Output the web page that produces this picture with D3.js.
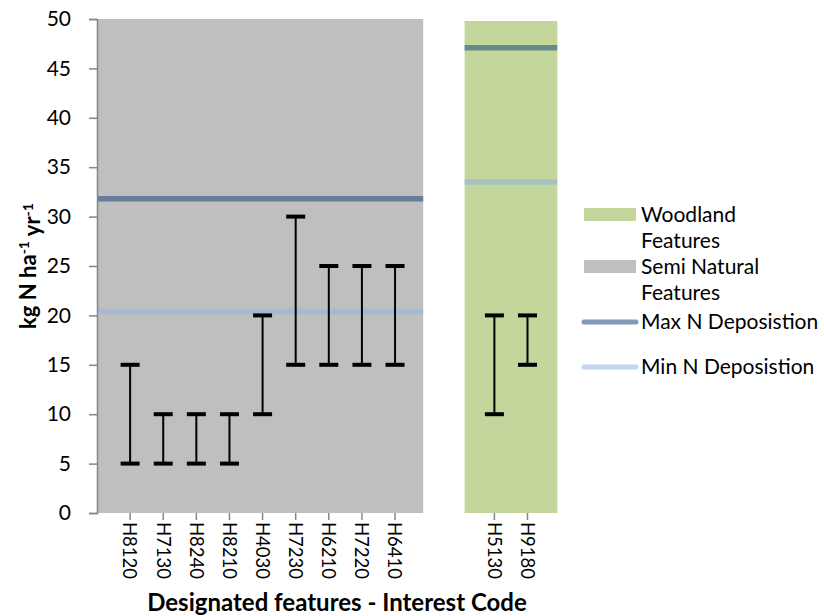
<!DOCTYPE html>
<html><head><meta charset="utf-8">
<script src="https://cdn.jsdelivr.net/npm/d3@7"></script>
<style>
body{margin:0;background:#fff}
text{font-family:Lato,"Open Sans",sans-serif;fill:#000}
</style>
</head><body>
<svg id="c" width="824" height="616"></svg>
<script>
// ---- data ----
const categories = ["H8120","H7130","H8240","H8210","H4030","H7230","H6210","H7220","H6410","H5130","H9180"];
const xPositions = [1,2,3,4,5,6,7,8,9,12,13];
const lowValues  = [5,5,5,5,10,15,15,15,15,10,15];
const highValues = [15,10,10,10,20,30,25,25,25,20,20];
const groupNames = ["Semi Natural Features","Woodland Features"];
const groupStart = [0, 11.1];
const groupEnd   = [9.85, 13.9];
const maxDeposition = [31.8, 47.1];
const minDeposition = [20.4, 33.5];
const yTicks = [0,5,10,15,20,25,30,35,40,45,50];
const legendLabels = [["Woodland","Features"],["Semi Natural","Features"],["Max N Deposistion"],["Min N Deposistion"]];

// ---- styles ----
const groupColors = ["#BFBFBF","#C3D69B"];
const maxColor = "rgba(31,73,125,0.55)";
const minColor = "rgba(142,180,227,0.55)";

const svg = d3.select("#c");
const x = d3.scaleLinear().domain([0,13]).range([97,527.5]);
const y = d3.scaleLinear().domain([0,50]).range([513,19]);

// group backgrounds
svg.selectAll("rect.grp").data(groupNames).enter().append("rect")
  .attr("x",(d,i)=>x(groupStart[i])).attr("width",(d,i)=>x(groupEnd[i])-x(groupStart[i]))
  .attr("y",(d,i)=>i===0?y(50):y(50)+2).attr("height",(d,i)=>i===0?y(0)-y(50):y(0)-y(50)-2)
  .attr("fill",(d,i)=>groupColors[i]);

// deposition lines
svg.selectAll("line.max").data(maxDeposition).enter().append("line")
  .attr("x1",(d,i)=>x(groupStart[i])).attr("x2",(d,i)=>x(groupEnd[i]))
  .attr("y1",d=>y(d)).attr("y2",d=>y(d))
  .attr("stroke",maxColor).attr("stroke-width",5.5);
svg.selectAll("line.min").data(minDeposition).enter().append("line")
  .attr("x1",(d,i)=>x(groupStart[i])).attr("x2",(d,i)=>x(groupEnd[i]))
  .attr("y1",d=>y(d)).attr("y2",d=>y(d))
  .attr("stroke",minColor).attr("stroke-width",5.5);

// error bars
const eb = svg.append("g");
categories.forEach((c,i)=>{
  const cx = x(xPositions[i]);
  eb.append("line").attr("x1",cx).attr("x2",cx).attr("y1",y(lowValues[i])).attr("y2",y(highValues[i]))
    .attr("stroke","#000").attr("stroke-width",2);
  [lowValues[i],highValues[i]].forEach(v=>{
    eb.append("line").attr("x1",cx-9.5).attr("x2",cx+9.5).attr("y1",y(v)).attr("y2",y(v))
      .attr("stroke","#000").attr("stroke-width",4);
  });
});

// y axis
const ya = svg.append("g").attr("transform","translate(97,0)")
  .call(d3.axisLeft(y).tickValues(yTicks).tickSize(8).tickPadding(18).tickFormat(d3.format("d")));
ya.select(".domain").attr("stroke","#868686").attr("stroke-width",1.5);
ya.selectAll(".tick line").attr("stroke","#868686").attr("stroke-width",1.5);
ya.selectAll(".tick text").attr("font-size",21).attr("font-family","Lato,'Open Sans',sans-serif").attr("fill","#000");

// x ticks and labels
const xt = svg.append("g");
categories.forEach((c,i)=>{
  const cx = x(xPositions[i]);
  xt.append("line").attr("x1",cx).attr("x2",cx).attr("y1",y(0)).attr("y2",y(0)+7)
    .attr("stroke","#868686").attr("stroke-width",1.5);
  xt.append("text").attr("transform",`translate(${cx},${y(0)+9}) rotate(90)`)
    .attr("dy","0.36em").attr("font-size",18.5).text(c);
});

// axis titles
const yt = svg.append("text").attr("transform",`translate(36,${(y(0)+y(50))/2}) rotate(-90)`)
  .attr("text-anchor","middle").attr("font-weight","bold").attr("font-size",22);
yt.append("tspan").text("kg N ha");
yt.append("tspan").attr("dy","-0.5em").attr("font-size",14).text("-1");
yt.append("tspan").attr("dy","0.5em").text(" yr");
yt.append("tspan").attr("dy","-0.5em").attr("font-size",14).text("-1");

svg.append("text").attr("x",337).attr("y",611).attr("text-anchor","middle")
  .attr("font-weight","bold").attr("font-size",24).text("Designated features - Interest Code");

// legend
const lg = svg.append("g");
const lgY = [215, 267, 322, 367];
legendLabels.forEach((lab,i)=>{
  const cy = lgY[i];
  if(i<2){
    lg.append("rect").attr("x",584).attr("y",cy-7).attr("width",52).attr("height",13).attr("fill",groupColors[1-i]);
  } else {
    lg.append("line").attr("x1",584).attr("x2",636).attr("y1",cy).attr("y2",cy)
      .attr("stroke",i===2?maxColor:minColor).attr("stroke-width",5).attr("stroke-linecap","round");
  }
  lab.forEach((t,j)=>{
    lg.append("text").attr("x",641).attr("y",cy+j*26).attr("dy","0.35em").attr("font-size",21).text(t);
  });
});
</script>
</body></html>
